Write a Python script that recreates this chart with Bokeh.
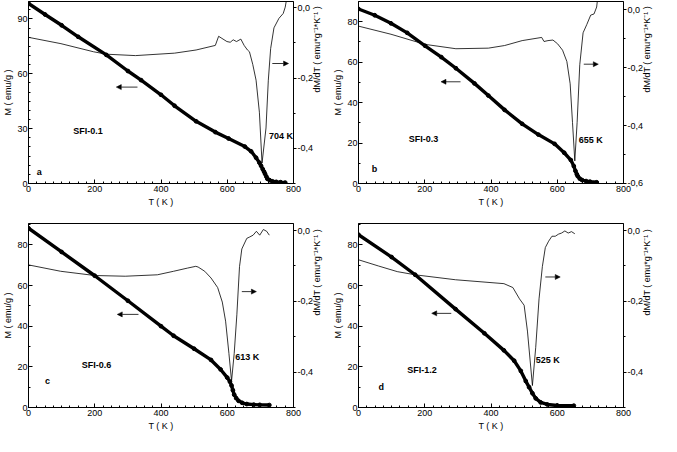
import math
from bokeh.plotting import figure
from bokeh.models import (Range1d, LinearAxis, SingleIntervalTicker, CustomJSTickFormatter,
                          Label, Arrow, NormalHead)
from bokeh.layouts import column, row
from bokeh.embed import file_html
from bokeh.resources import INLINE

FONT = "Liberation Sans"

# ---------------- data ----------------
# panel a  (SFI-0.1): magnetisation M(T) and derivative dM/dT
Ta_M = [0, 50, 100, 150, 235, 300, 340, 400, 441, 506, 564, 604, 653, 672, 687, 697, 702, 707, 711, 714, 718, 721, 728, 736, 748, 761, 775]
Ma = [98.4, 92.4, 86.5, 80.2, 70.3, 61.5, 56.5, 48.5, 42.5, 34.0, 28.1, 24.6, 20.2, 17.6, 14.1, 11.4, 9.7, 7.9, 6.5, 5.3, 3.8, 2.6, 1.8, 1.2, 0.9, 0.7, 0.5]
Ta_d = [0, 98, 196, 235, 323, 441, 506, 564, 574, 584, 599, 609, 618, 628, 641, 651, 661, 667, 677, 687, 697, 705, 717, 724, 731, 741, 756, 769, 775, 782]
da = [-0.084, -0.102, -0.125, -0.132, -0.136, -0.129, -0.120, -0.107, -0.081, -0.087, -0.096, -0.098, -0.091, -0.096, -0.089, -0.107, -0.120, -0.125, -0.161, -0.206, -0.297, -0.442, -0.342, -0.206, -0.116, -0.057, -0.030, -0.016, 0.002, 0.04]

# panel b  (SFI-0.3)
Tb_M = [0, 49, 98, 147, 201, 250, 294, 350, 392, 441, 494, 543, 592, 621, 641, 650, 655, 659, 662, 668, 675, 687, 699, 719]
Mb = [86.3, 83.2, 79.2, 74.5, 68.1, 62.5, 57.0, 49.5, 43.5, 36.4, 29.5, 24.2, 19.6, 15.2, 11.6, 8.6, 6.2, 4.6, 3.6, 2.4, 1.7, 1.2, 0.9, 0.6]
Tb_d = [0, 98, 201, 294, 392, 441, 494, 553, 560, 572, 587, 601, 616, 629, 639, 646, 653, 660, 668, 678, 689, 701, 711, 719, 723]
db = [-0.057, -0.085, -0.120, -0.135, -0.133, -0.124, -0.107, -0.096, -0.110, -0.107, -0.105, -0.118, -0.140, -0.179, -0.256, -0.389, -0.522, -0.389, -0.190, -0.080, -0.052, -0.019, -0.015, 0.009, 0.05]

# panel c  (SFI-0.6)
Tc_M = [0, 100, 200, 300, 400, 438, 500, 551, 580, 600, 608, 613, 617, 621, 627, 634, 645, 659, 680, 698, 727]
Mc = [88.2, 76.5, 64.8, 52.5, 40.0, 35.3, 28.9, 23.4, 18.7, 14.7, 12.7, 10.8, 8.5, 6.3, 4.6, 3.3, 2.3, 1.7, 1.4, 1.3, 1.2]
Tc_d = [0, 97, 200, 292, 389, 438, 480, 505, 512, 532, 551, 571, 585, 595, 605, 613, 621, 629, 637, 644, 659, 668, 678, 688, 698, 709, 719, 727]
dc = [-0.097, -0.115, -0.127, -0.129, -0.125, -0.115, -0.106, -0.101, -0.103, -0.115, -0.134, -0.161, -0.202, -0.256, -0.347, -0.425, -0.347, -0.238, -0.102, -0.052, -0.022, -0.018, -0.013, -0.002, -0.013, 0.003, -0.002, -0.013]

# panel d  (SFI-1.2)
Td_M = [0, 100, 171, 293, 380, 439, 470, 490, 505, 515, 525, 535, 550, 570, 600, 650]
Md = [85.0, 74.0, 65.3, 48.4, 36.5, 28.1, 23.0, 18.0, 13.0, 10.0, 7.0, 4.5, 2.5, 1.5, 1.0, 0.9]
Td_d = [0, 60, 117, 171, 293, 439, 466, 486, 500, 510, 525, 535, 545, 555, 564, 574, 584, 594, 604, 613, 623, 633, 643, 653]
dd = [-0.0825, -0.100, -0.116, -0.125, -0.139, -0.150, -0.161, -0.193, -0.211, -0.284, -0.438, -0.330, -0.193, -0.102, -0.048, -0.030, -0.016, -0.016, -0.010, -0.007, -0.001, -0.007, -0.003, -0.009]

samples = ["SFI-0.1", "SFI-0.3", "SFI-0.6", "SFI-1.2"]
tc_labels = ["704 K", "655 K", "613 K", "525 K"]
letters = ["a", "b", "c", "d"]

X_LABEL = "T ( K )"
Y_LABEL = "M ( emu/g )"
R_LABEL = "dM/dT ( emu*g\u207b\u00b9*K\u207b\u00b9 )"


def make_panel(TM, M, Td, d, ymax, rmin, rmax, yint, yminor, top, info):
    p = figure(width=330, height=218,
               output_backend="svg", toolbar_location=None,
               x_range=Range1d(0, 800), y_range=Range1d(0, ymax),
               min_border_left=0, min_border_right=0,
               min_border_top=(1 if top else 5), min_border_bottom=(35 if top else 29))
    p.extra_y_ranges = {"r": Range1d(rmin, rmax)}
    p.grid.visible = False
    p.outline_line_color = "black"
    p.outline_line_width = 1
    p.background_fill_color = "white"
    p.border_fill_color = "white"

    p.xaxis.ticker = SingleIntervalTicker(interval=200, num_minor_ticks=8)
    p.yaxis.ticker = SingleIntervalTicker(interval=yint, num_minor_ticks=yminor)
    ra = LinearAxis(y_range_name="r",
                    ticker=SingleIntervalTicker(interval=0.2, num_minor_ticks=2),
                    formatter=CustomJSTickFormatter(code="return tick.toFixed(1).replace('.', ',');"))
    p.add_layout(ra, "right")
    p.xaxis.axis_label = X_LABEL
    p.yaxis[0].axis_label = Y_LABEL
    ra.axis_label = R_LABEL
    for ax in (p.xaxis[0], p.yaxis[0]):
        ax.major_tick_in = 4
        ax.major_tick_out = 0
        ax.minor_tick_in = 2
        ax.minor_tick_out = 0
    ra.major_tick_in = 0
    ra.major_tick_out = 3
    ra.minor_tick_in = 0
    ra.minor_tick_out = 2
    ra.axis_label_orientation = math.pi / 2
    for ax in (p.xaxis[0], p.yaxis[0], ra):
        ax.axis_line_color = "black"
        ax.major_tick_line_color = "black"
        ax.minor_tick_line_color = "black"
        ax.major_label_text_font = FONT
        ax.major_label_text_font_size = "9px"
        ax.major_label_text_color = "black"
        ax.axis_label_text_font = FONT
        ax.axis_label_text_font_size = "9px"
        ax.axis_label_text_font_style = "normal"
        ax.axis_label_text_color = "black"
        ax.major_label_standoff = 2
        ax.axis_label_standoff = 2
    p.yaxis[0].major_label_standoff = 1
    p.yaxis[0].axis_label_standoff = 1
    ra.major_label_standoff = 1
    ra.axis_label_standoff = 1

    p.line(Td, d, y_range_name="r", line_color="black", line_width=0.8)
    p.line(TM, M, line_color="black", line_width=3.4)
    p.scatter(TM, M, marker="circle", size=3.8, color="black")

    (sx, sy), (kx, ky), (lx, ly), (al, am), (ar, an) = info["sample"], info["tc"], info["letter"], info["larrow"], info["rarrow"]
    for text, x, y in ((info["s"], sx, sy), (info["k"], kx, ky), (info["l"], lx, ly)):
        p.add_layout(Label(x=x, y=y, text=text, text_font=FONT, text_font_size="9px",
                           text_font_style="bold", text_color="black", text_baseline="middle"))
    p.add_layout(Arrow(end=NormalHead(size=5, line_color="black", fill_color="black", line_width=0.5),
                       x_start=al[0], x_end=al[1], y_start=am, y_end=am, line_width=0.8, line_color="black"))
    p.add_layout(Arrow(end=NormalHead(size=5, line_color="black", fill_color="black", line_width=0.5),
                       x_start=ar[0], x_end=ar[1], y_start=an, y_end=an, line_width=0.8, line_color="black"))
    return p


pa = make_panel(Ta_M, Ma, Ta_d, da, 99.5, -0.5, 0.018, 30, 6, True,
                dict(s=samples[0], k=tc_labels[0], l=letters[0],
                     sample=(135, 28.5), tc=(726, 26), letter=(25, 6.5),
                     larrow=((329, 265), 52.7), rarrow=((736, 785), 65.6)))
pb = make_panel(Tb_M, Mb, Tb_d, db, 90, -0.6001, 0.028, 20, 2, True,
                dict(s=samples[1], k=tc_labels[1], l=letters[1],
                     sample=(152, 22), tc=(665, 21.5), letter=(40, 7.3),
                     larrow=((308, 249), 50.3), rarrow=((680, 724), 59)))
pc = make_panel(Tc_M, Mc, Tc_d, dc, 90.5, -0.5, 0.02, 20, 2, False,
                dict(s=samples[2], k=tc_labels[2], l=letters[2],
                     sample=(161, 21), tc=(624, 24.7), letter=(50, 13),
                     larrow=((332, 268), 45.8), rarrow=((644, 688), 57)))
pd_ = make_panel(Td_M, Md, Td_d, dd, 90.5, -0.5, 0.02, 20, 2, False,
                 dict(s=samples[3], k=tc_labels[3], l=letters[3],
                      sample=(147, 18.6), tc=(535, 23.4), letter=(60, 10),
                      larrow=((280, 221), 46.3), rarrow=((564, 609), 64.2)))

layout = column(row(pa, pb), row(pc, pd_))
open("out.html", "w").write(file_html(layout, INLINE))
